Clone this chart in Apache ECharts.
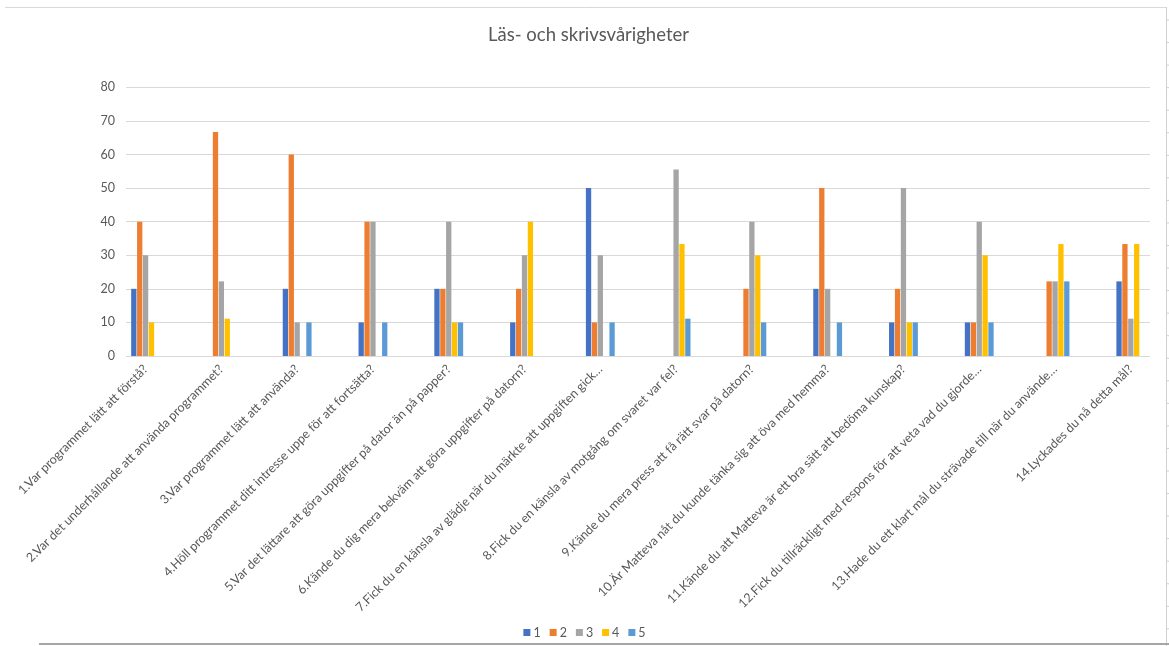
<!DOCTYPE html>
<html>
<head>
<meta charset="utf-8">
<title>Läs- och skrivsvårigheter</title>
<script src="https://cdn.jsdelivr.net/npm/echarts@6/dist/echarts.min.js"></script>
<style>
  html, body { margin: 0; padding: 0; background: #fff; }
  #chart { width: 1169px; height: 646px; }
</style>
</head>
<body>
<div id="chart"></div>
<script>
// Questions (category axis)
const categories = [
  '1.Var programmet lätt att förstå?',
  '2.Var det underhållande att använda programmet?',
  '3.Var programmet lätt att använda?',
  '4.Höll programmet ditt intresse uppe för att fortsätta?',
  '5.Var det lättare att göra uppgifter på dator än på papper?',
  '6.Kände du dig mera bekväm att göra uppgifter på datorn?',
  '7.Fick du en känsla av glädje när du märkte att uppgiften gick…',
  '8.Fick du en känsla av motgång om svaret var fel?',
  '9.Kände du mera press att få rätt svar på datorn?',
  '10.Är Matteva nåt du kunde tänka sig att öva med hemma?',
  '11.Kände du att Matteva är ett bra sätt att bedöma kunskap?',
  '12.Fick du tillräckligt med respons för att veta vad du gjorde…',
  '13.Hade du ett klart mål du strävade till när du använde…',
  '14.Lyckades du nå detta mål?'
];

// Share of answers (%) per rating 1–5
const rating1 = [20, 0, 20, 10, 20, 10, 50, 0, 0, 20, 10, 10, 0, 22.22];
const rating2 = [40, 66.67, 60, 40, 20, 20, 10, 0, 20, 50, 20, 10, 22.22, 33.33];
const rating3 = [30, 22.22, 10, 40, 40, 30, 30, 55.56, 40, 20, 50, 40, 22.22, 11.11];
const rating4 = [10, 11.11, 0, 0, 10, 40, 0, 33.33, 30, 0, 10, 30, 33.33, 33.33];
const rating5 = [0, 0, 10, 10, 10, 0, 10, 11.11, 10, 10, 10, 10, 22.22, 0];

const seriesNames = ['1', '2', '3', '4', '5'];
const seriesData = [rating1, rating2, rating3, rating4, rating5];
const colors = ['#4472C4', '#ED7D31', '#A5A5A5', '#FFC000', '#5B9BD5'];

const yTicks = { min: 0, max: 80, interval: 10 };

const textColor = '#595959';
const font = 'Lato, "Open Sans", sans-serif';

const chart = echarts.init(document.getElementById('chart'), null, { renderer: 'canvas' });

// sheet edge decorations: row markers along the right border
const edgeTicks = [];
for (let y = 20; y < 640; y += 22.55) {
  edgeTicks.push({
    type: 'line',
    shape: { x1: 1166, y1: y, x2: 1169, y2: y },
    style: { stroke: '#d0d0d0', lineWidth: 1 },
    silent: true
  });
}

const option = {
  animation: false,
  color: colors,
  textStyle: { fontFamily: font },
  title: {
    text: 'Läs- och skrivsvårigheter',
    left: 583.5,
    top: 21,
    textAlign: 'center',
    textStyle: { fontFamily: font, fontSize: 18.5, fontWeight: 'normal', color: textColor }
  },
  legend: {
    data: seriesNames,
    bottom: 2,
    left: 'center',
    itemWidth: 7,
    itemHeight: 7,
    itemGap: 9,
    icon: 'rect',
    textStyle: { fontFamily: font, fontSize: 12.5, color: textColor, padding: [0, 0, 0, -2] }
  },
  grid: [
    { left: 107.7, right: 0.3, top: 87.3, bottom: 290, containLabel: false },
    { left: 126, right: 19, top: 87.3, bottom: 290, containLabel: false }
  ],
  xAxis: [
    {
      type: 'category',
      gridIndex: 0,
      data: categories,
      axisLine: { show: false },
      axisTick: { show: false },
      axisLabel: {
        interval: 0,
        rotate: 45,
        margin: 11,
        fontFamily: font,
        fontSize: 12.5,
        color: textColor
      }
    },
    {
      type: 'category',
      gridIndex: 1,
      data: categories,
      show: false
    }
  ],
  yAxis: [
    {
      type: 'value',
      gridIndex: 0,
      min: yTicks.min,
      max: yTicks.max,
      interval: yTicks.interval,
      show: false
    },
    {
      type: 'value',
      gridIndex: 1,
      min: yTicks.min,
      max: yTicks.max,
      interval: yTicks.interval,
      axisLine: { show: false },
      axisTick: { show: false },
      axisLabel: { fontFamily: font, fontSize: 12.5, color: textColor, margin: 11 },
      splitLine: { lineStyle: { color: '#d9d9d9', width: 1 } }
    }
  ],
  series: seriesNames.map((name, i) => ({
    name: name,
    type: 'bar',
    xAxisIndex: 0,
    yAxisIndex: 0,
    data: seriesData[i],
    barWidth: 5.3,
    barGap: '11%',
    itemStyle: { color: colors[i] }
  })),
  graphic: [
    {
      type: 'line',
      shape: { x1: 5, y1: 7.5, x2: 1166, y2: 7.5 },
      style: { stroke: '#d9d9d9', lineWidth: 1 },
      silent: true
    },
    {
      type: 'line',
      shape: { x1: 1166.5, y1: 7, x2: 1166.5, y2: 646 },
      style: { stroke: '#d0d0d0', lineWidth: 1 },
      silent: true
    },
    {
      type: 'line',
      shape: { x1: 39, y1: 644, x2: 1169, y2: 644 },
      style: { stroke: '#a6a6a6', lineWidth: 2 },
      silent: true
    }
  ].concat(edgeTicks)
};

chart.setOption(option);
</script>
</body>
</html>
